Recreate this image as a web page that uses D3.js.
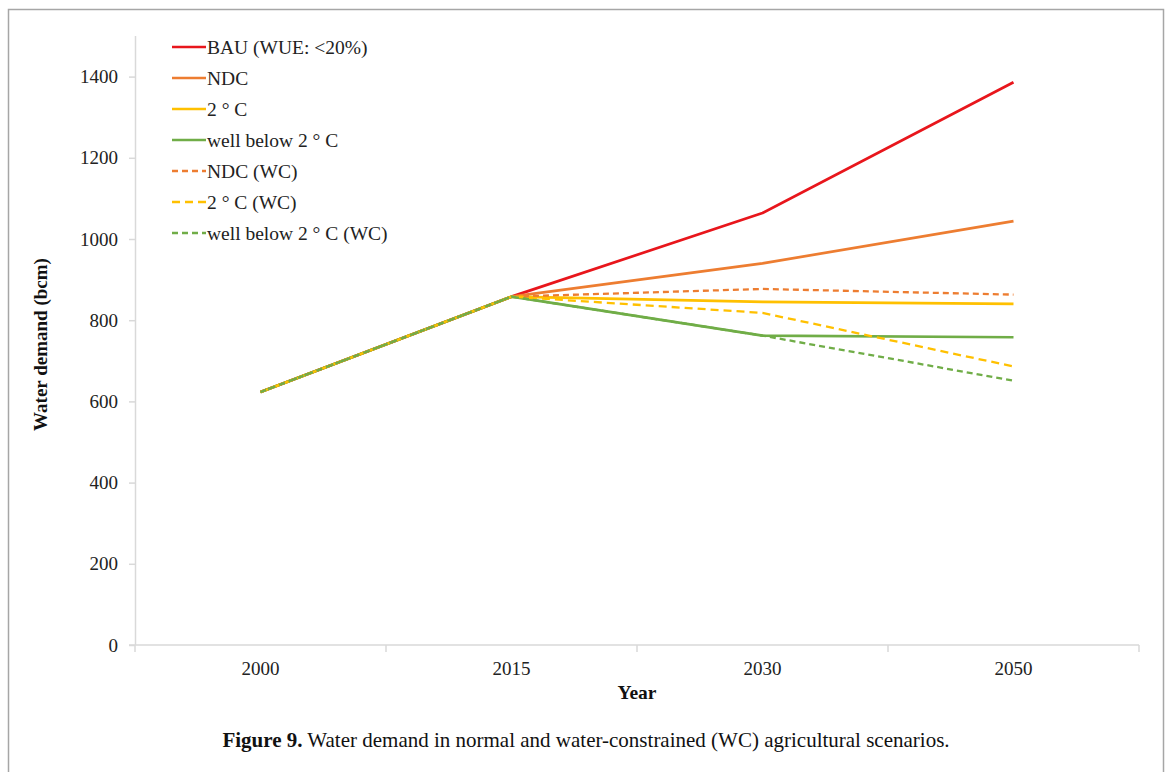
<!DOCTYPE html>
<html>
<head>
<meta charset="utf-8">
<script src="https://cdn.jsdelivr.net/npm/d3@7"></script>
<style>
  html, body { margin: 0; padding: 0; background: #fff; }
  svg { display: block; }
</style>
</head>
<body>
<svg id="chart" width="1170" height="772"></svg>
<script>
// Scenario years and water demand (bcm) per scenario
const years = ["2000", "2015", "2030", "2050"];
const yTicks = [0, 200, 400, 600, 800, 1000, 1200, 1400];

const bau      = [623, 858, 1064, 1386];
const ndc      = [623, 858, 940, 1044];
const twoC     = [623, 858, 845, 840];
const wb2C     = [623, 858, 762, 758];
const ndcWC    = [623, 858, 877, 863];
const twoCWC   = [623, 858, 818, 686];
const wb2CWC   = [623, 858, 762, 651];

const seriesNames  = ["BAU (WUE: <20%)", "NDC", "2 ° C", "well below 2 ° C",
                      "NDC (WC)", "2 ° C (WC)", "well below 2 ° C (WC)"];
const seriesValues = [bau, ndc, twoC, wb2C, ndcWC, twoCWC, wb2CWC];
const seriesColors = ["#e8161c", "#ed7d31", "#ffc000", "#70ad47",
                      "#ed7d31", "#ffc000", "#70ad47"];
const seriesDashed = [false, false, false, false, true, true, true];

const series = seriesNames.map((name, i) => ({
  name, values: seriesValues[i], color: seriesColors[i], dashed: seriesDashed[i]
}));

const svg = d3.select("#chart");
const serif = "'Liberation Serif', 'Times New Roman', serif";

// Figure frame
svg.append("path")
  .attr("d", "M8.5,790 V9.5 H1163.5 V790")
  .attr("fill", "none").attr("stroke", "#a6a6a6").attr("stroke-width", 1.5);

const plotLeft = 135, plotRight = 1139, plotTop = 36, plotBottom = 645;

const x = d3.scaleBand().domain(years).range([plotLeft, plotRight]);
const y = d3.scaleLinear().domain([0, 1500]).range([plotBottom, plotTop]);

// Y axis
const yAxis = svg.append("g")
  .attr("transform", `translate(${plotLeft},0)`)
  .call(d3.axisLeft(y).tickValues(yTicks).tickFormat(d3.format("d"))
        .tickSize(6).tickPadding(11));
yAxis.select(".domain").attr("stroke", "#d9d9d9").attr("stroke-width", 1.5)
  .attr("d", `M0.5,${plotTop}V${plotBottom}`);
yAxis.selectAll(".tick line").attr("stroke", "#d9d9d9").attr("stroke-width", 1.5);
yAxis.selectAll(".tick text")
  .attr("font-family", serif).attr("font-size", 19).attr("fill", "#222");

// X axis: category labels centred in bands, ticks on band boundaries
const xAxis = svg.append("g").attr("transform", `translate(0,${plotBottom})`);
xAxis.append("line")
  .attr("x1", plotLeft - 6).attr("x2", plotRight)
  .attr("stroke", "#d9d9d9").attr("stroke-width", 1.5);
const boundaries = years.map(d => x(d)).concat([x(years[years.length - 1]) + x.bandwidth()]);
xAxis.selectAll("line.tk").data(boundaries).join("line")
  .attr("class", "tk")
  .attr("x1", d => d).attr("x2", d => d)
  .attr("y1", 0).attr("y2", 7)
  .attr("stroke", "#d9d9d9").attr("stroke-width", 1.5);
xAxis.selectAll("text").data(years).join("text")
  .attr("x", d => x(d) + x.bandwidth() / 2)
  .attr("y", 30)
  .attr("text-anchor", "middle")
  .attr("font-family", serif).attr("font-size", 19).attr("fill", "#222")
  .text(d => d);

// Axis titles
svg.append("text")
  .attr("x", (plotLeft + plotRight) / 2).attr("y", 699)
  .attr("text-anchor", "middle")
  .attr("font-family", serif).attr("font-size", 19.5).attr("font-weight", "bold")
  .attr("fill", "#111")
  .text("Year");
svg.append("text")
  .attr("transform", `translate(47,${(plotTop + plotBottom) / 2 + 4}) rotate(-90)`)
  .attr("text-anchor", "middle")
  .attr("font-family", serif).attr("font-size", 19).attr("font-weight", "bold")
  .attr("fill", "#111")
  .text("Water demand (bcm)");

// Scenario lines, drawn in legend order
const line = d3.line()
  .x((d, i) => x(years[i]) + x.bandwidth() / 2)
  .y(d => y(d));

const dashFor = d => d.dashed ? (d.color === "#ffc000" ? "8,5" : "6,4") : null;

svg.append("g").selectAll("path")
  .data(series)
  .join("path")
  .attr("d", d => line(d.values))
  .attr("fill", "none")
  .attr("stroke", d => d.color)
  .attr("stroke-width", d => d.dashed ? 2.3 : 2.7)
  .attr("stroke-dasharray", dashFor)
  .attr("stroke-linejoin", "round");

// Legend
const legend = svg.append("g").attr("transform", "translate(172,47)");
const rows = legend.selectAll("g").data(series).join("g")
  .attr("transform", (d, i) => `translate(0,${i * 31})`);
rows.append("line")
  .attr("x1", 0).attr("x2", 34).attr("y1", 0).attr("y2", 0)
  .attr("stroke", d => d.color)
  .attr("stroke-width", d => d.dashed ? 2.3 : 2.7)
  .attr("stroke-dasharray", dashFor);
rows.append("text")
  .attr("x", 35).attr("y", 6.5)
  .attr("font-family", serif).attr("font-size", 19.5).attr("fill", "#222")
  .text(d => d.name);

// Caption
const cap = svg.append("text")
  .attr("x", 586).attr("y", 747)
  .attr("text-anchor", "middle")
  .attr("font-family", serif).attr("font-size", 21).attr("fill", "#111");
cap.append("tspan").attr("font-weight", "bold").text("Figure 9.");
cap.append("tspan").text(" Water demand in normal and water-constrained (WC) agricultural scenarios.");
</script>
</body>
</html>
